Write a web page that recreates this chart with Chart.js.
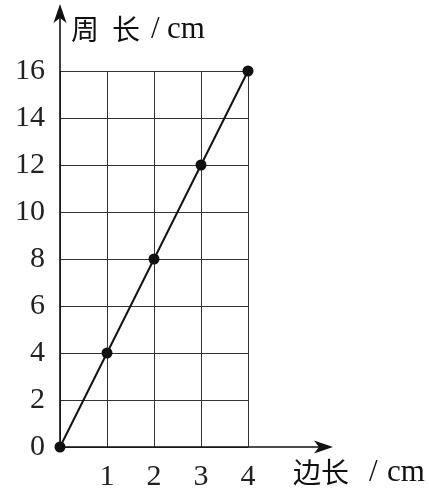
<!DOCTYPE html>
<html>
<head>
<meta charset="utf-8">
<script src="https://cdn.jsdelivr.net/npm/chart.js@4/dist/chart.umd.min.js"></script>
<style>
  html, body { margin: 0; padding: 0; background: #fff; }
  #wrap { width: 429px; height: 494px; }
</style>
</head>
<body>
<div id="wrap"><canvas id="c" width="429" height="494"></canvas></div>
<script>
// 边长 (cm) 和 周长 (cm)
const sides = [0, 1, 2, 3, 4];
const perimeters = [0, 4, 8, 12, 16];
const xTickValues = [0, 1, 2, 3, 4];
const yTickValues = [0, 2, 4, 6, 8, 10, 12, 14, 16];
const xTitle = ['边', '长', '/', 'cm'];
const yTitle = ['周', '长', '/', 'cm'];

const serif = "'Liberation Serif', 'DejaVu Serif', serif";
const cjk = "'Noto Sans CJK SC', sans-serif";

// 坐标轴带箭头，以及两个轴标题
const axesPlugin = {
    id: 'axesArrows',
    afterDraw(chart) {
        const ctx = chart.ctx;
        const x0 = chart.scales.x.getPixelForValue(0);
        const y0 = chart.scales.y.getPixelForValue(0);
        const xEnd = 333, yEnd = 4;
        ctx.save();
        ctx.strokeStyle = '#111';
        ctx.fillStyle = '#111';
        ctx.lineWidth = 1.6;
        ctx.beginPath();
        ctx.moveTo(x0, y0);
        ctx.lineTo(xEnd - 8, y0);
        ctx.moveTo(x0, y0);
        ctx.lineTo(x0, yEnd + 8);
        ctx.stroke();
        // x 箭头
        ctx.beginPath();
        ctx.moveTo(xEnd, y0);
        ctx.lineTo(xEnd - 19, y0 - 6.5);
        ctx.lineTo(xEnd - 14, y0);
        ctx.lineTo(xEnd - 19, y0 + 6.5);
        ctx.closePath();
        ctx.fill();
        // y 箭头
        ctx.beginPath();
        ctx.moveTo(x0, yEnd);
        ctx.lineTo(x0 - 6.5, yEnd + 19);
        ctx.lineTo(x0, yEnd + 14);
        ctx.lineTo(x0 + 6.5, yEnd + 19);
        ctx.closePath();
        ctx.fill();

        ctx.textBaseline = 'middle';
        ctx.textAlign = 'left';
        drawTitle(ctx, yTitle, [71, 112, 151, 167], 29);
        drawTitle(ctx, xTitle, [293, 321, 369, 387], 472);
        ctx.restore();
    }
};

function drawTitle(ctx, parts, xs, y) {
    ctx.font = '28px ' + cjk;
    ctx.fillText(parts[0], xs[0], y);
    ctx.fillText(parts[1], xs[1], y);
    ctx.font = '31px ' + serif;
    ctx.fillText(parts[2], xs[2], y + 1);
    ctx.fillText(parts[3], xs[3], y + 1);
}

new Chart(document.getElementById('c'), {
    type: 'scatter',
    data: {
        datasets: [{
            data: sides.map((s, i) => ({ x: s, y: perimeters[i] })),
            showLine: true,
            borderColor: '#111',
            borderWidth: 2,
            pointRadius: 4.5,
            pointBackgroundColor: '#111',
            pointBorderColor: '#111',
            clip: false
        }]
    },
    options: {
        responsive: false,
        animation: false,
        layout: { padding: { top: 71, right: 181, left: 0, bottom: 0 } },
        plugins: { legend: { display: false }, tooltip: { enabled: false } },
        scales: {
            x: {
                type: 'linear',
                min: 0,
                max: 4,
                afterFit: s => { s.height = 47; },
                afterBuildTicks: s => { s.ticks = xTickValues.map(v => ({ value: v })); },
                border: { display: false },
                grid: { color: '#333', lineWidth: 1, drawTicks: false },
                ticks: {
                    padding: 12,
                    color: '#222',
                    font: { family: serif, size: 30 },
                    callback: v => (v === 0 ? '' : String(v))
                }
            },
            y: {
                type: 'linear',
                min: 0,
                max: 16,
                afterFit: s => { s.width = 60; },
                afterBuildTicks: s => { s.ticks = yTickValues.map(v => ({ value: v })); },
                border: { display: false },
                grid: { color: '#333', lineWidth: 1, drawTicks: false },
                ticks: {
                    padding: 15,
                    color: '#222',
                    font: { family: serif, size: 30 }
                }
            }
        }
    },
    plugins: [axesPlugin]
});
</script>
</body>
</html>
